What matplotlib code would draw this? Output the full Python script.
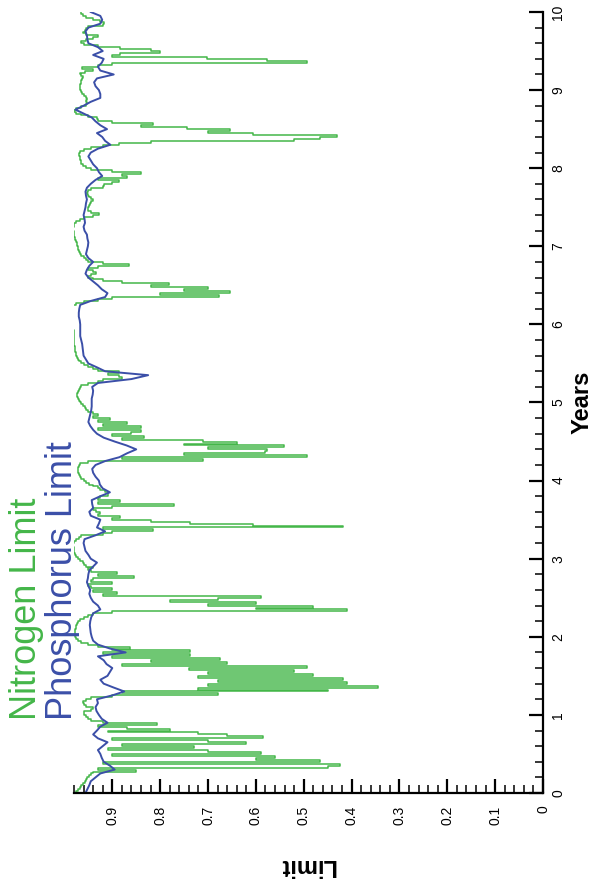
import numpy as np
import matplotlib
matplotlib.use('Agg')
import matplotlib.pyplot as plt
from matplotlib.ticker import FixedLocator, MultipleLocator

plt.rcParams['font.family'] = ['Liberation Sans', 'DejaVu Sans']

GREEN = '#44b649'
BLUE = '#3b4fa8'

# Phosphorus limit, read every 0.05 years from 0 to 10
phosphorus = [
    0.956, 0.952, 0.948, 0.945, 0.935, 0.925, 0.895, 0.905, 0.918, 0.922,
    0.925, 0.930, 0.920, 0.910, 0.930, 0.940, 0.932, 0.925, 0.910, 0.922,
    0.928, 0.933, 0.935, 0.930, 0.932, 0.900, 0.875, 0.897, 0.918, 0.925,
    0.910, 0.905, 0.900, 0.912, 0.918, 0.930, 0.872, 0.905, 0.930, 0.940,
    0.943, 0.945, 0.946, 0.947, 0.946, 0.944, 0.940, 0.925, 0.930, 0.940,
    0.945, 0.948, 0.946, 0.950, 0.953, 0.951, 0.950, 0.948, 0.940, 0.932,
    0.945, 0.950, 0.956, 0.958, 0.960, 0.958, 0.935, 0.915, 0.932, 0.928,
    0.925, 0.945, 0.948, 0.940, 0.942, 0.943, 0.925, 0.905, 0.920, 0.926,
    0.928, 0.935, 0.940, 0.942, 0.935, 0.915, 0.885, 0.869, 0.850, 0.870,
    0.895, 0.918, 0.932, 0.940, 0.946, 0.950, 0.948, 0.946, 0.944, 0.943,
    0.943, 0.943, 0.941, 0.940, 0.942, 0.930, 0.860, 0.825, 0.915, 0.932,
    0.950, 0.955, 0.960, 0.961, 0.962, 0.963, 0.965, 0.967, 0.967, 0.967,
    0.967, 0.968, 0.970, 0.970, 0.969, 0.967, 0.945, 0.915, 0.910, 0.922,
    0.930, 0.940, 0.950, 0.956, 0.953, 0.948, 0.940, 0.950, 0.955, 0.953,
    0.951, 0.950, 0.952, 0.953, 0.958, 0.960, 0.957, 0.958, 0.960, 0.958,
    0.956, 0.955, 0.953, 0.955, 0.956, 0.953, 0.945, 0.935, 0.921, 0.928,
    0.932, 0.940, 0.945, 0.950, 0.945, 0.930, 0.904, 0.915, 0.921, 0.932,
    0.911, 0.925, 0.935, 0.943, 0.960, 0.977, 0.960, 0.945, 0.925, 0.925,
    0.928, 0.935, 0.938, 0.932, 0.897, 0.925, 0.930, 0.922, 0.918, 0.940,
    0.920, 0.930, 0.950, 0.952, 0.953, 0.956, 0.950, 0.925, 0.921, 0.925,
    0.945,
]

# Nitrogen limit, read every 0.025 years from 0 to 10
nitrogen = [
    # 0.000 - 0.275
    0.978, 0.975, 0.972, 0.968, 0.965, 0.962, 0.958, 0.955, 0.952, 0.948, 0.945, 0.940,
    # 0.300 - 0.900
    0.85, 0.93, 0.45, 0.424, 0.92, 0.465, 0.60, 0.56, 0.90, 0.59, 0.70, 0.91, 0.73,
    0.88, 0.62, 0.70, 0.90, 0.585, 0.66, 0.72, 0.91, 0.78, 0.87, 0.93, 0.806,
    # 0.925 - 1.225
    0.92, 0.945, 0.95, 0.955, 0.96, 0.96, 0.945, 0.94, 0.955, 0.96, 0.962, 0.955, 0.945,
    # 1.250 - 1.925
    0.90, 0.68, 0.88, 0.45, 0.72, 0.344, 0.70, 0.41, 0.68, 0.417, 0.72, 0.48, 0.70, 0.52,
    0.74, 0.493, 0.88, 0.66, 0.82, 0.674, 0.90, 0.737, 0.92, 0.737, 0.90, 0.862, 0.93, 0.95,
    # 1.950 - 2.300
    0.965, 0.972, 0.975, 0.977, 0.978, 0.978, 0.977, 0.976, 0.975, 0.974, 0.972, 0.968,
    0.960, 0.950, 0.940,
    # 2.325 - 2.525
    0.90, 0.41, 0.60, 0.48, 0.70, 0.60, 0.78, 0.68, 0.59,
    # 2.550 - 2.900
    0.92, 0.89, 0.94, 0.90, 0.945, 0.95, 0.90, 0.945, 0.94, 0.855, 0.93, 0.89, 0.945,
    0.95, 0.94,
    # 2.925 - 3.300
    0.955, 0.96, 0.962, 0.968, 0.972, 0.975, 0.977, 0.979, 0.98, 0.981, 0.982, 0.982,
    0.98, 0.975, 0.97, 0.965,
    # 3.325 - 3.600
    0.92, 0.90, 0.814, 0.92, 0.417, 0.605, 0.737, 0.82, 0.90, 0.883, 0.93, 0.925,
    # 3.625 - 3.800
    0.935, 0.94, 0.90, 0.772, 0.93, 0.883, 0.93, 0.925,
    # 3.825 - 4.250
    0.91, 0.91, 0.915, 0.925, 0.93, 0.94, 0.948, 0.955, 0.96, 0.965, 0.968, 0.97,
    0.972, 0.972, 0.971, 0.97, 0.968, 0.95,
    # 4.275 - 4.850
    0.71, 0.88, 0.493, 0.75, 0.58, 0.577, 0.70, 0.542, 0.75, 0.64, 0.71, 0.88,
    0.834, 0.90, 0.86, 0.84, 0.93, 0.84, 0.92, 0.87, 0.93, 0.904, 0.94, 0.93,
    # 4.875 - 5.250
    0.94, 0.95, 0.955, 0.958, 0.962, 0.966, 0.968, 0.97, 0.972, 0.973, 0.973, 0.972,
    0.97, 0.968, 0.965, 0.95,
    # 5.275 - 5.450
    0.93, 0.92, 0.88, 0.887, 0.91, 0.887, 0.93, 0.94,
    # 5.475 - 6.325
    0.95, 0.96, 0.965, 0.97, 0.972, 0.974, 0.975, 0.976, 0.977, 0.978, 0.978, 0.979,
    0.979, 0.98, 0.98, 0.98, 0.981, 0.981, 0.981, 0.982, 0.982, 0.982, 0.983, 0.983,
    0.983, 0.984, 0.984, 0.984, 0.984, 0.984, 0.983, 0.982, 0.975, 0.96, 0.93,
    # 6.350 - 6.575
    0.90, 0.678, 0.80, 0.653, 0.75, 0.70, 0.82, 0.782, 0.88, 0.92,
    # 6.600 - 6.875
    0.94, 0.95, 0.945, 0.935, 0.94, 0.95, 0.93, 0.866, 0.92, 0.95, 0.955, 0.96,
    # 6.900 - 7.375
    0.965, 0.968, 0.97, 0.971, 0.972, 0.973, 0.974, 0.976, 0.977, 0.978, 0.979, 0.98,
    0.981, 0.982, 0.982, 0.981, 0.979, 0.975, 0.968, 0.96,
    # 7.400 - 7.750
    0.94, 0.928, 0.945, 0.95, 0.95, 0.948, 0.946, 0.945, 0.94, 0.945, 0.948, 0.95,
    0.952, 0.95, 0.945,
    # 7.775 - 8.025
    0.92, 0.918, 0.90, 0.887, 0.93, 0.87, 0.88, 0.84, 0.90, 0.945, 0.955,
    # 8.050 - 8.300
    0.962, 0.965, 0.966, 0.967, 0.968, 0.97, 0.97, 0.967, 0.96, 0.945, 0.92,
    # 8.325 - 8.700
    0.887, 0.82, 0.521, 0.465, 0.431, 0.605, 0.70, 0.653, 0.744, 0.84, 0.814, 0.90,
    0.93, 0.932, 0.95, 0.965,
    # 8.725 - 9.300
    0.975, 0.98, 0.975, 0.965, 0.955, 0.952, 0.955, 0.953, 0.955, 0.96, 0.963, 0.965,
    0.967, 0.968, 0.967, 0.966, 0.965, 0.963, 0.962, 0.965, 0.967, 0.958, 0.94, 0.963,
    # 9.325 - 9.575
    0.93, 0.90, 0.493, 0.577, 0.702, 0.90, 0.883, 0.80, 0.82, 0.883, 0.93,
    # 9.600 - 10.000
    0.96, 0.965, 0.955, 0.94, 0.93, 0.955, 0.962, 0.958, 0.955, 0.95, 0.92, 0.918,
    0.925, 0.94, 0.955, 0.962, 0.966,
]

years_p = np.linspace(0, 10, len(phosphorus))
years_n = np.linspace(0, 10, len(nitrogen))

limit_ticks = [0, 0.1, 0.2, 0.3, 0.4, 0.5, 0.6, 0.7, 0.8, 0.9]
limit_labels = ['0', '0.1', '0.2', '0.3', '0.4', '0.5', '0.6', '0.7', '0.8', '0.9']
year_ticks = [0, 1, 2, 3, 4, 5, 6, 7, 8, 9, 10]

W, H = 593, 888
fig = plt.figure(figsize=(W / 100, H / 100), dpi=100)
ax = fig.add_axes([74 / W, 1 - 793 / H, (543 - 74) / W, (793 - 12) / H])

# chart is drawn turned on its side: Limit runs right-to-left, Years bottom-to-top
# steps-post: each value jumps out horizontally, then holds until the next year step
ax.plot(nitrogen, years_n, color=GREEN, lw=1.1, drawstyle='steps-post')
ax.plot(phosphorus, years_p, color=BLUE, lw=1.4)

ax.set_xlim(0.98, 0)
ax.set_ylim(0, 10)

for s in ['top', 'left']:
    ax.spines[s].set_visible(False)
for s in ['bottom', 'right']:
    ax.spines[s].set_linewidth(1.6)

ax.yaxis.tick_right()
ax.xaxis.set_major_locator(FixedLocator(limit_ticks))
ax.set_xticklabels(limit_labels, rotation=90, fontsize=10)
ax.xaxis.set_minor_locator(MultipleLocator(0.02))
ax.yaxis.set_major_locator(FixedLocator(year_ticks))
ax.set_yticklabels([str(y) for y in year_ticks], rotation=90, va='center', fontsize=10)
ax.yaxis.set_minor_locator(MultipleLocator(0.2))

ax.tick_params(which='major', direction='in', length=10, width=1.6)
ax.tick_params(which='minor', direction='in', length=6, width=1.1)
ax.tick_params(axis='x', pad=9)
ax.tick_params(axis='y', pad=6)

fig.text(582 / W, 1 - 402 / H, 'Years', rotation=90, ha='center', va='center',
         fontsize=17, fontweight='bold')
fig.text(307 / W, 1 - 865 / H, 'Limit', rotation=180, ha='center', va='center',
         fontsize=17, fontweight='bold')

fig.text(27 / W, 1 - 720 / H, 'Nitrogen Limit', rotation=90, ha='center', va='bottom',
         fontsize=26, color=GREEN)
fig.text(62 / W, 1 - 720 / H, 'Phosphorus Limit', rotation=90, ha='center', va='bottom',
         fontsize=26, color=BLUE)

fig.savefig('out.png', dpi=100, facecolor='white')
